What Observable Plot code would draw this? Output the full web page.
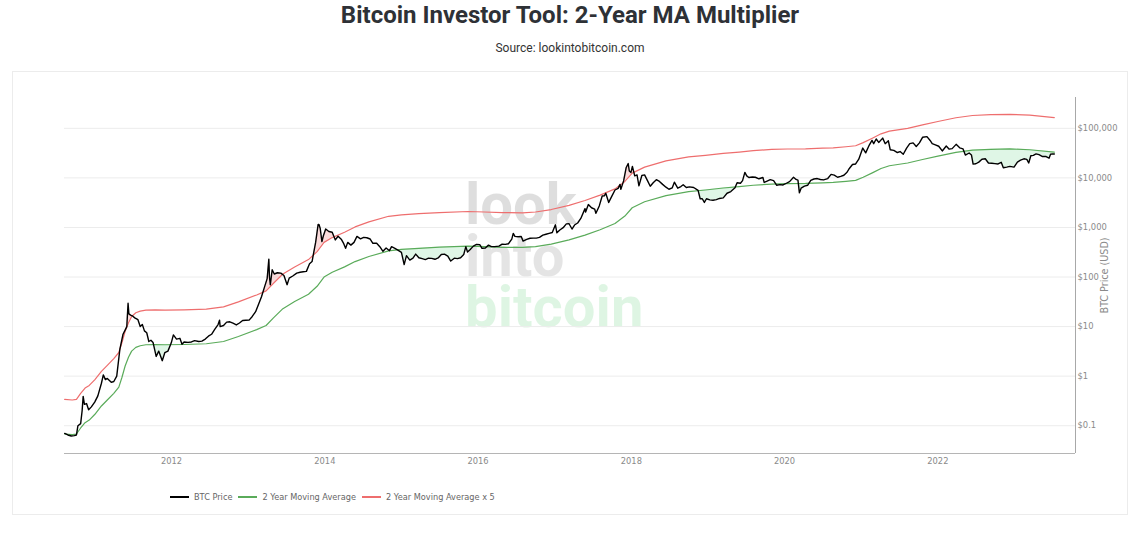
<!DOCTYPE html>
<html>
<head>
<meta charset="utf-8">
<script src="https://cdn.jsdelivr.net/npm/d3@7"></script>
<script src="https://cdn.jsdelivr.net/npm/@observablehq/plot@0.6"></script>
<style>
  html, body { margin: 0; padding: 0; background: #fff; }
  body { width: 1140px; height: 549px; overflow: hidden; position: relative; }
  #title { position: absolute; left: 0; top: 1px; width: 1140px; text-align: center;
           font: 700 24px Roboto, sans-serif; color: #2e3136; }
  #subtitle { position: absolute; left: 0; top: 41px; width: 1140px; text-align: center;
              font: 400 12px Roboto, sans-serif; color: #333; }
  #box { position: absolute; left: 12px; top: 71px; width: 1116px; height: 444px;
         border: 1px solid #ececec; box-sizing: border-box; }
  #watermark { position: absolute; left: 452px; top: 107px; white-space: pre;
               font: 700 58px/51.5px Roboto, sans-serif; color: transparent;
               background: linear-gradient(to bottom, #dedede 0px, #dedede 51.5px, #e4e4e4 51.5px, #e4e4e4 103px, #def5e3 103px, #def5e3 160px);
               -webkit-background-clip: text; background-clip: text; }
  #chart { position: absolute; left: 0; top: 0; }
  #legend { position: absolute; left: 157px; top: 419px; height: 12px; display: flex; align-items: center;
            font: 8.2px "DejaVu Sans", sans-serif; color: #666; }
  .item { display: flex; align-items: center; margin-right: 6px; }
  .swatch { width: 19px; height: 2px; margin-right: 5px; }
</style>
</head>
<body>
<div id="title">Bitcoin Investor Tool: 2-Year MA Multiplier</div>
<div id="subtitle">Source: lookintobitcoin.com</div>
<div id="box">
  <div id="watermark">look
into
bitcoin</div>
  <div id="chart"></div>
  <div id="legend"></div>
</div>
<script>
// BTC daily close, sampled at the swings that shape the curve (USD)
const priceSeries = [
  ["2010-08-10",0.07],["2010-08-25",0.065],["2010-09-10",0.062],["2010-09-25",0.063],["2010-10-05",0.065],
  ["2010-10-12",0.10],["2010-10-25",0.11],["2010-11-01",0.20],["2010-11-06",0.39],["2010-11-12",0.27],
  ["2010-11-22",0.28],["2010-12-02",0.21],["2010-12-15",0.24],["2010-12-31",0.30],["2011-01-15",0.40],
  ["2011-02-01",0.72],["2011-02-10",1.06],["2011-02-20",0.85],["2011-03-01",0.90],["2011-03-20",0.75],
  ["2011-04-01",0.78],["2011-04-15",1.00],["2011-04-30",3.5],["2011-05-15",7.0],["2011-05-25",8.5],
  ["2011-06-02",10],["2011-06-08",29.6],["2011-06-12",18],["2011-06-20",17],["2011-06-28",16.5],
  ["2011-07-10",15],["2011-07-25",13.8],["2011-08-05",10],["2011-08-15",11],["2011-08-25",8.2],
  ["2011-09-05",7.5],["2011-09-15",5.0],["2011-09-25",5.3],["2011-10-05",4.8],["2011-10-20",2.5],
  ["2011-11-01",3.2],["2011-11-18",2.05],["2011-11-30",2.97],["2011-12-15",3.2],["2011-12-31",4.7],
  ["2012-01-10",6.8],["2012-01-25",5.6],["2012-02-10",5.8],["2012-02-20",4.4],["2012-03-01",4.9],
  ["2012-03-20",4.8],["2012-04-05",4.9],["2012-04-20",5.2],["2012-05-10",5.0],["2012-05-25",5.1],
  ["2012-06-10",5.6],["2012-06-25",6.4],["2012-07-10",7.0],["2012-07-25",8.8],["2012-08-10",11.0],
  ["2012-08-17",13.5],["2012-08-20",10.0],["2012-09-05",10.5],["2012-09-20",12.3],["2012-10-05",12.5],
  ["2012-10-20",11.7],["2012-11-05",10.8],["2012-11-20",11.8],["2012-12-05",13.3],["2012-12-20",13.4],
  ["2013-01-05",13.5],["2013-01-20",16],["2013-02-05",20],["2013-02-20",29],["2013-03-05",40],
  ["2013-03-20",64],["2013-04-01",93],["2013-04-09",230],["2013-04-12",100],["2013-04-16",70],
  ["2013-04-25",140],["2013-05-05",115],["2013-05-20",122],["2013-06-05",120],["2013-06-20",107],
  ["2013-07-05",70],["2013-07-15",95],["2013-08-01",105],["2013-08-20",120],["2013-09-05",125],
  ["2013-09-20",128],["2013-10-05",130],["2013-10-20",185],["2013-11-01",205],["2013-11-10",330],
  ["2013-11-18",500],["2013-11-30",1150],["2013-12-04",1150],["2013-12-10",950],["2013-12-18",520],
  ["2013-12-25",680],["2014-01-05",930],["2014-01-20",830],["2014-02-05",800],["2014-02-20",560],
  ["2014-03-05",665],["2014-03-20",580],["2014-04-01",470],["2014-04-10",380],["2014-04-20",500],
  ["2014-05-05",440],["2014-05-20",500],["2014-06-03",660],["2014-06-20",590],["2014-07-05",630],
  ["2014-07-20",620],["2014-08-05",585],["2014-08-18",480],["2014-09-05",480],["2014-09-20",410],
  ["2014-10-05",330],["2014-10-20",385],["2014-11-05",340],["2014-11-15",410],["2014-12-01",380],
  ["2014-12-15",350],["2015-01-01",315],["2015-01-14",178],["2015-01-25",270],["2015-02-10",220],
  ["2015-02-25",240],["2015-03-10",290],["2015-03-25",245],["2015-04-10",235],["2015-04-25",225],
  ["2015-05-10",240],["2015-05-25",238],["2015-06-10",228],["2015-06-25",243],["2015-07-10",285],
  ["2015-07-25",290],["2015-08-10",265],["2015-08-24",210],["2015-09-10",240],["2015-09-25",235],
  ["2015-10-10",245],["2015-10-25",285],["2015-11-04",410],["2015-11-12",320],["2015-11-25",360],
  ["2015-12-10",420],["2015-12-25",455],["2016-01-10",448],["2016-01-20",380],["2016-02-05",385],
  ["2016-02-20",440],["2016-03-05",410],["2016-03-20",410],["2016-04-10",420],["2016-04-25",460],
  ["2016-05-10",455],["2016-05-25",470],["2016-06-10",580],["2016-06-17",760],["2016-06-25",660],
  ["2016-07-10",650],["2016-07-25",655],["2016-08-03",530],["2016-08-20",575],["2016-09-05",605],
  ["2016-09-20",610],["2016-10-05",610],["2016-10-20",630],["2016-11-05",700],["2016-11-20",730],
  ["2016-12-05",760],["2016-12-20",790],["2017-01-04",1130],["2017-01-11",780],["2017-01-25",890],
  ["2017-02-10",990],["2017-02-25",1180],["2017-03-10",1190],["2017-03-24",930],["2017-04-05",1120],
  ["2017-04-20",1230],["2017-05-05",1520],["2017-05-25",2400],["2017-05-28",2050],["2017-06-10",2900],
  ["2017-06-25",2500],["2017-07-10",2350],["2017-07-16",1930],["2017-08-01",2720],["2017-08-15",4300],
  ["2017-08-25",4350],["2017-09-01",4900],["2017-09-15",3200],["2017-09-30",4300],["2017-10-15",5700],
  ["2017-10-30",6150],["2017-11-08",7400],["2017-11-12",5900],["2017-11-25",8700],["2017-12-07",16000],
  ["2017-12-17",19500],["2017-12-22",13800],["2017-12-30",12900],["2018-01-06",17100],["2018-01-17",11000],
  ["2018-01-28",11500],["2018-02-06",6900],["2018-02-20",11200],["2018-03-05",11500],["2018-03-20",8600],
  ["2018-04-01",6800],["2018-04-15",8000],["2018-04-30",9200],["2018-05-15",8500],["2018-05-30",7400],
  ["2018-06-15",6500],["2018-06-29",5900],["2018-07-15",6300],["2018-07-25",8200],["2018-08-10",6200],
  ["2018-08-25",6700],["2018-09-05",7300],["2018-09-20",6400],["2018-10-05",6600],["2018-10-25",6400],
  ["2018-11-15",5600],["2018-11-25",3800],["2018-12-05",3800],["2018-12-15",3200],["2018-12-25",3800],
  ["2019-01-10",3600],["2019-01-25",3550],["2019-02-10",3650],["2019-02-25",3850],["2019-03-15",3950],
  ["2019-04-02",4900],["2019-04-20",5300],["2019-05-10",6300],["2019-05-20",8000],["2019-06-05",7800],
  ["2019-06-15",8800],["2019-06-26",12900],["2019-07-05",11000],["2019-07-15",10200],["2019-08-01",10400],
  ["2019-08-15",10300],["2019-09-01",9600],["2019-09-20",10200],["2019-09-26",8100],["2019-10-10",8600],
  ["2019-10-25",9200],["2019-11-10",8800],["2019-11-25",7100],["2019-12-10",7300],["2019-12-25",7200],
  ["2020-01-10",7800],["2020-01-25",8400],["2020-02-13",10300],["2020-02-25",9300],["2020-03-05",9000],
  ["2020-03-12",5000],["2020-03-20",6200],["2020-04-05",6800],["2020-04-20",7100],["2020-05-05",8900],
  ["2020-05-20",9500],["2020-06-05",9700],["2020-06-20",9300],["2020-07-05",9100],["2020-07-25",9700],
  ["2020-08-10",11800],["2020-08-25",11400],["2020-09-10",10300],["2020-09-25",10700],["2020-10-10",11300],
  ["2020-10-25",13000],["2020-11-05",15500],["2020-11-20",18600],["2020-12-05",19100],["2020-12-20",23900],
  ["2021-01-08",40000],["2021-01-22",32000],["2021-02-08",46000],["2021-02-21",57000],["2021-03-01",49000],
  ["2021-03-13",61000],["2021-03-25",52000],["2021-04-13",63500],["2021-04-25",49000],["2021-05-10",56000],
  ["2021-05-19",37000],["2021-06-05",36000],["2021-06-22",32500],["2021-07-05",34000],["2021-07-20",30000],
  ["2021-08-05",40000],["2021-08-20",49000],["2021-09-05",51000],["2021-09-20",43000],["2021-10-05",51000],
  ["2021-10-20",66000],["2021-11-10",68000],["2021-11-25",57000],["2021-12-05",49000],["2021-12-20",46500],
  ["2022-01-05",43500],["2022-01-22",35000],["2022-02-10",44000],["2022-02-24",38000],["2022-03-10",39000],
  ["2022-03-29",47500],["2022-04-15",40500],["2022-05-01",38500],["2022-05-12",28900],["2022-05-30",31800],
  ["2022-06-10",29000],["2022-06-18",19000],["2022-07-01",19300],["2022-07-15",20800],["2022-07-30",23800],
  ["2022-08-15",24300],["2022-08-30",20000],["2022-09-15",19700],["2022-09-30",19400],["2022-10-15",19100],
  ["2022-10-30",20600],["2022-11-09",16000],["2022-11-25",16500],["2022-12-10",17100],["2022-12-30",16500],
  ["2023-01-15",20900],["2023-01-30",22800],["2023-02-15",24300],["2023-03-01",23600],["2023-03-10",20000],
  ["2023-03-20",28000],["2023-04-01",28500],["2023-04-14",30500],["2023-04-28",29400],["2023-05-15",27000],
  ["2023-06-01",27000],["2023-06-15",25000],["2023-06-22",30000],["2023-07-01",30600],["2023-07-10",30300]
];

// 730-day simple moving average of the close (USD)
const maSeries = [
  ["2010-08-10",0.068],["2010-09-15",0.066],["2010-10-05",0.068],["2010-10-25",0.09],["2010-11-15",0.115],
  ["2010-12-05",0.13],["2011-01-01",0.17],["2011-02-01",0.25],["2011-03-01",0.33],["2011-04-01",0.45],
  ["2011-04-25",0.6],["2011-05-10",0.95],["2011-05-25",1.6],["2011-06-10",2.4],["2011-06-25",3.2],
  ["2011-07-15",3.8],["2011-08-05",4.1],["2011-09-01",4.3],["2011-10-15",4.35],["2011-12-01",4.3],
  ["2012-03-01",4.35],["2012-06-15",4.5],["2012-09-05",5.0],["2012-11-15",6.3],["2013-02-10",8.7],
  ["2013-03-27",10.5],["2013-05-01",15],["2013-06-15",23],["2013-08-10",32],["2013-10-15",45],
  ["2013-11-25",65],["2013-12-28",100],["2014-02-05",125],["2014-04-05",160],["2014-05-25",205],
  ["2014-07-30",260],["2014-11-01",336],["2015-01-01",360],["2015-03-25",380],["2015-07-01",400],
  ["2015-11-15",420],["2016-02-01",410],["2016-04-25",398],["2016-08-01",395],["2016-10-01",410],
  ["2016-12-15",460],["2017-03-10",560],["2017-05-25",700],["2017-08-05",900],["2017-10-15",1200],
  ["2017-12-01",1700],["2018-01-05",2500],["2018-03-05",3300],["2018-06-15",4400],["2018-10-01",5300],
  ["2018-12-20",5700],["2019-03-15",6250],["2019-05-30",6650],["2019-08-05",7100],["2019-11-01",7500],
  ["2020-01-15",7650],["2020-04-10",7720],["2020-07-01",7950],["2020-08-20",8100],["2020-10-20",8500],
  ["2020-12-05",8900],["2021-01-10",10300],["2021-02-25",12800],["2021-04-05",15500],["2021-05-15",17600],
  ["2021-08-10",20000],["2021-10-20",23500],["2022-01-01",27500],["2022-03-28",32700],["2022-06-15",36300],
  ["2022-09-10",37800],["2022-12-10",38400],["2023-03-15",37000],["2023-07-10",33000]
];

const multiplier = 5;
const xDomain = ["2010-08-09", "2023-10-19"];
const yDomain = [0.0275, 419000];
const yTicks = [0.1, 1, 10, 100, 1000, 10000, 100000];
const xTickYears = ["2012", "2014", "2016", "2018", "2020", "2022"];
const seriesNames = ["BTC Price", "2 Year Moving Average", "2 Year Moving Average x 5"];
const seriesColors = ["#000000", "#5aab5a", "#ee6e6e"];

const parseDay = d3.utcParse("%Y-%m-%d");
const price = priceSeries.map(([d, v]) => ({date: parseDay(d), value: v}));
const ma = maSeries.map(([d, v]) => ({date: parseDay(d), value: v, band: v * multiplier}));
const xTicks = xTickYears.map(y => parseDay(y + "-01-01"));
const xDom = xDomain.map(parseDay);
const fmtUsd = d3.format(",");

const chart = Plot.plot({
  width: 1114,
  height: 411,
  marginLeft: 51,
  marginRight: 52,
  marginTop: 25,
  marginBottom: 30,
  style: {fontFamily: "'DejaVu Sans', sans-serif", background: "transparent", overflow: "visible"},
  x: {type: "utc", domain: xDom},
  y: {type: "log", domain: yDomain},
  marks: [
    Plot.gridY(yTicks, {stroke: "#ececec", strokeOpacity: 1}),
    // price above the 5x band: fill from the band up to price
    Plot.areaY(price, {x: "date", y1: "value", y2: yDomain[0], fill: "#f6c3c3", fillOpacity: 0.6, ariaDescription: "price-floor"}),
    Plot.areaY(ma, {x: "date", y1: "band", y2: yDomain[1], fill: "none", ariaDescription: "band-ceiling"}),
    // price below the moving average: fill from price up to the average
    Plot.areaY(price, {x: "date", y1: "value", y2: yDomain[1], fill: "#c9f0d5", fillOpacity: 0.6, ariaDescription: "price-ceiling"}),
    Plot.areaY(ma, {x: "date", y1: "value", y2: yDomain[0], fill: "none", ariaDescription: "ma-floor"}),
    Plot.lineY(ma, {x: "date", y: "value", stroke: seriesColors[1], strokeWidth: 1.2}),
    Plot.lineY(ma, {x: "date", y: "band", stroke: seriesColors[2], strokeWidth: 1.2}),
    Plot.lineY(price, {x: "date", y: "value", stroke: seriesColors[0], strokeWidth: 1.4}),
    Plot.ruleY([yDomain[0]], {stroke: "#b5b5b5"}),
    Plot.ruleX([xDom[1]], {stroke: "#a8a8a8"}),
    Plot.axisX({ticks: xTicks, tickFormat: d3.utcFormat("%Y"), tickSize: 0, tickPadding: 5,
                fontSize: 8.3, fill: "#8a8a8a", label: null}),
    Plot.axisY({anchor: "right", ticks: yTicks, tickFormat: v => "$" + fmtUsd(v), tickSize: 0, tickPadding: 2,
                fontSize: 8.4, fill: "#8a8a8a", label: "BTC Price (USD)", labelAnchor: "center",
                labelArrow: false, labelOffset: 32})
  ]
});

// Turn each helper area into a clip path for its fill partner
const NS = "http://www.w3.org/2000/svg";
let defs = chart.querySelector("defs");
if (!defs) { defs = document.createElementNS(NS, "defs"); chart.insertBefore(defs, chart.firstChild); }
function clipWith(targetDesc, clipDesc, id) {
  const target = chart.querySelector(`[aria-description="${targetDesc}"]`);
  const source = chart.querySelector(`[aria-description="${clipDesc}"]`);
  if (!target || !source) return;
  const cp = document.createElementNS(NS, "clipPath");
  cp.setAttribute("id", id);
  source.querySelectorAll("path").forEach(p => {
    const q = document.createElementNS(NS, "path");
    q.setAttribute("d", p.getAttribute("d"));
    cp.appendChild(q);
  });
  defs.appendChild(cp);
  target.setAttribute("clip-path", `url(#${id})`);
  source.remove();
}
clipWith("price-floor", "band-ceiling", "clip-band");
clipWith("price-ceiling", "ma-floor", "clip-ma");

// Axis title styling
chart.querySelectorAll('[aria-label="y-axis label"] text, [aria-label="y-axis label"]').forEach(el => {
  el.setAttribute("font-size", "9.6");
  el.setAttribute("fill", "#8a8a8a");
});

document.getElementById("chart").appendChild(chart);

// Legend
const legend = document.getElementById("legend");
seriesNames.forEach((name, i) => {
  const item = document.createElement("div");
  item.className = "item";
  const sw = document.createElement("div");
  sw.className = "swatch";
  sw.style.backgroundColor = seriesColors[i];
  const label = document.createElement("span");
  label.textContent = name;
  item.append(sw, label);
  legend.appendChild(item);
});
</script>
</body>
</html>
